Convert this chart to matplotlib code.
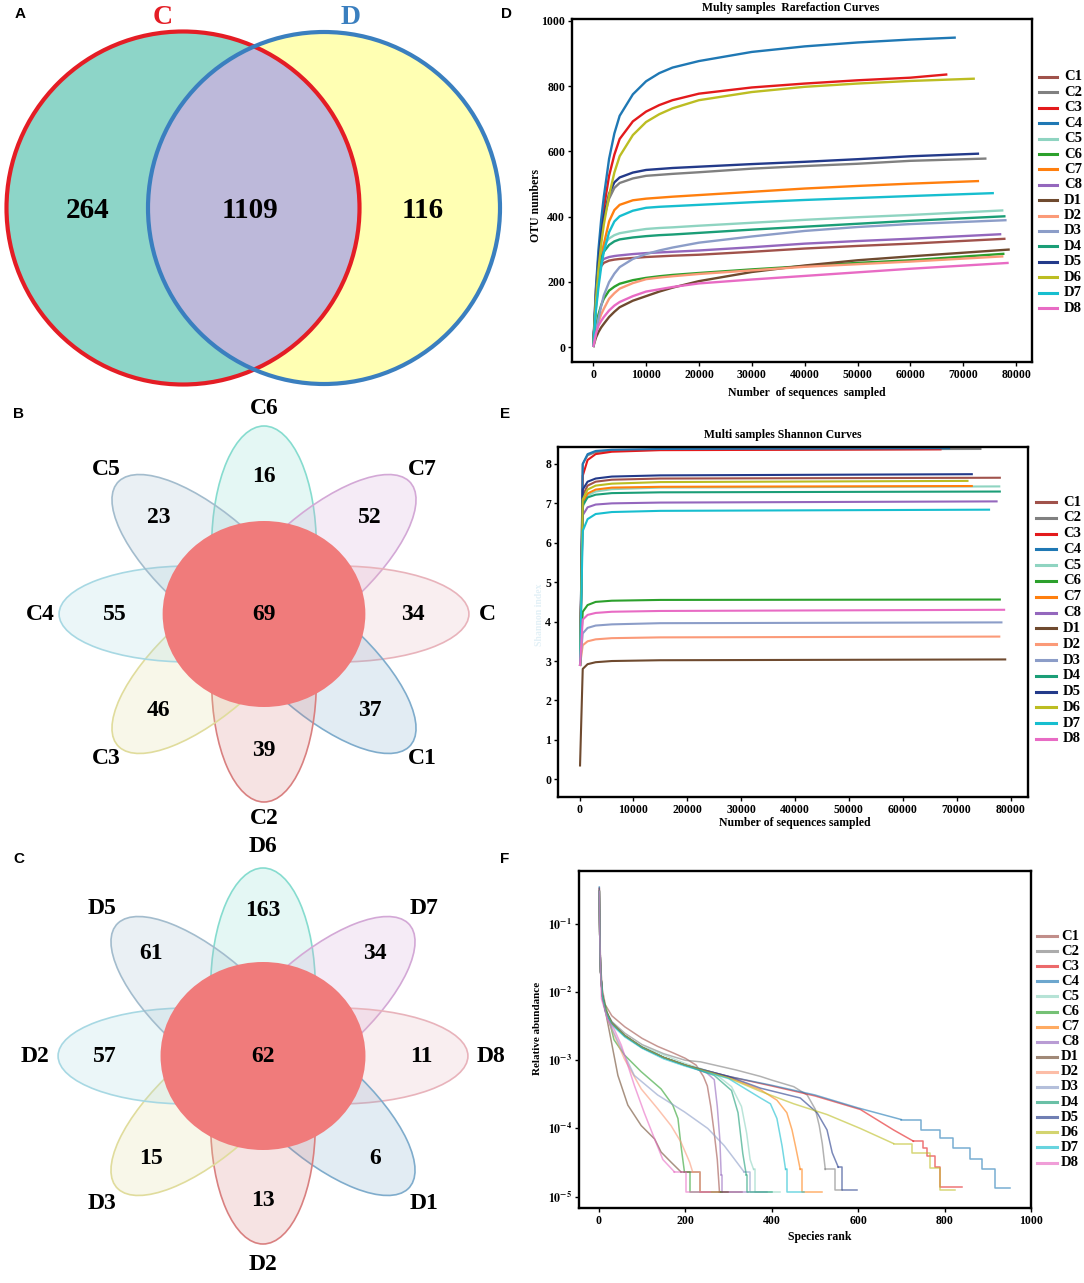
import matplotlib
matplotlib.use('Agg')
import matplotlib.pyplot as plt
from matplotlib.patches import Circle, Ellipse
from matplotlib.lines import Line2D
from matplotlib.ticker import NullLocator, FixedLocator, FixedFormatter
import numpy as np

plt.rcParams['font.family'] = ['Liberation Serif', 'DejaVu Serif']
plt.rcParams['font.weight'] = 'bold'
plt.rcParams['mathtext.fontset'] = 'stix'

W, H = 1084, 1283

# ---------------- data ----------------
venn_groups = ['C', 'D']
venn_counts = [264, 1109, 116]

flower_c_labels = ['C6', 'C7', 'C', 'C1', 'C2', 'C3', 'C4', 'C5']
flower_c_counts = [16, 52, 34, 37, 39, 46, 55, 23]
flower_c_core = 69
flower_d_labels = ['D6', 'D7', 'D8', 'D1', 'D2', 'D3', 'D2', 'D5']
flower_d_counts = [163, 34, 11, 6, 13, 15, 57, 61]
flower_d_core = 62

samples = ['C1', 'C2', 'C3', 'C4', 'C5', 'C6', 'C7', 'C8',
           'D1', 'D2', 'D3', 'D4', 'D5', 'D6', 'D7', 'D8']
sample_colors = ['#a0524b', '#808080', '#e31a1c', '#1f78b4', '#8fd4c1', '#2ca02c', '#ff7f0e', '#9467bd',
                 '#6f4a2f', '#fb9a78', '#8c9dc8', '#1b9e77', '#233a8a', '#bcbd22', '#17becf', '#e86bc4']

# rarefaction (panel D)
rare_depth = [0, 500, 1000, 1500, 2000, 3000, 4000, 5000, 7500, 10000, 12500, 15000, 20000, 30000, 40000, 50000, 60000]
rare_C1 = [0, 145, 222, 248, 258, 265, 268, 270, 273, 276, 278, 280, 283, 292, 302, 310, 317]
rare_C2 = [0, 150, 260, 340, 395, 455, 488, 503, 517, 525, 528, 531, 536, 547, 555, 562, 571]
rare_C3 = [0, 170, 280, 360, 425, 525, 590, 638, 692, 722, 742, 757, 777, 796, 808, 818, 826]
rare_C4 = [0, 180, 300, 390, 460, 577, 655, 709, 775, 815, 840, 857, 877, 905, 922, 934, 943]
rare_C5 = [0, 150, 250, 292, 312, 333, 343, 349, 356, 362, 365, 367, 372, 381, 390, 398, 405]
rare_C6 = [0, 60, 100, 128, 148, 173, 185, 194, 205, 212, 217, 221, 227, 238, 248, 258, 266]
rare_C7 = [0, 120, 200, 265, 315, 385, 420, 436, 450, 455, 458, 461, 466, 476, 486, 494, 501]
rare_C8 = [0, 150, 232, 260, 270, 276, 279, 281, 285, 288, 290, 292, 296, 306, 317, 325, 332]
rare_D1 = [0, 28, 46, 60, 71, 92, 108, 122, 142, 156, 170, 182, 202, 230, 250, 266, 278]
rare_D2 = [0, 45, 77, 100, 117, 148, 165, 179, 196, 208, 213, 217, 224, 235, 246, 254, 262]
rare_D3 = [0, 45, 87, 125, 158, 199, 225, 245, 270, 285, 296, 305, 320, 339, 356, 368, 377]
rare_D4 = [0, 140, 228, 270, 292, 313, 324, 330, 336, 340, 343, 345, 350, 360, 369, 378, 387]
rare_D5 = [0, 150, 265, 345, 400, 470, 505, 520, 535, 543, 546, 549, 553, 561, 568, 576, 585]
rare_D6 = [0, 140, 240, 315, 375, 465, 535, 585, 650, 690, 714, 732, 757, 782, 798, 808, 816]
rare_D7 = [0, 110, 185, 245, 292, 352, 385, 401, 418, 427, 430, 432, 436, 444, 451, 457, 463]
rare_D8 = [0, 40, 66, 80, 92, 112, 127, 138, 156, 170, 177, 184, 195, 207, 218, 229, 240]
rare_end_depth = [78000, 74400, 67000, 68600, 77600, 77800, 73000, 77200,
                  78800, 77600, 78200, 78000, 73000, 72200, 75800, 78600]
rare_end_otu = [332, 578, 836, 949, 419, 286, 509, 346,
                299, 278, 389, 401, 593, 823, 472, 258]

# shannon (panel E)
sh_depth = [100, 600, 1500, 3000, 6000, 15000]
sh_C1 = [2.9, 7.2, 7.45, 7.55, 7.6, 7.63]
sh_C2 = [2.9, 8.0, 8.22, 8.3, 8.34, 8.36]
sh_C3 = [2.9, 7.7, 8.1, 8.25, 8.31, 8.35]
sh_C4 = [2.9, 8.0, 8.25, 8.33, 8.36, 8.38]
sh_C5 = [2.9, 6.9, 7.2, 7.3, 7.36, 7.4]
sh_C6 = [2.9, 4.25, 4.42, 4.5, 4.53, 4.55]
sh_C7 = [2.9, 7.0, 7.25, 7.35, 7.4, 7.42]
sh_C8 = [2.9, 6.7, 6.9, 6.97, 7.0, 7.02]
sh_D1 = [0.35, 2.8, 2.92, 2.97, 3.0, 3.02]
sh_D2 = [2.9, 3.4, 3.5, 3.55, 3.58, 3.6]
sh_D3 = [2.9, 3.7, 3.84, 3.9, 3.93, 3.96]
sh_D4 = [2.9, 6.95, 7.15, 7.22, 7.26, 7.28]
sh_D5 = [2.9, 7.35, 7.55, 7.63, 7.68, 7.71]
sh_D6 = [2.9, 7.1, 7.35, 7.45, 7.5, 7.54]
sh_D7 = [2.9, 6.3, 6.6, 6.73, 6.78, 6.81]
sh_D8 = [2.9, 4.05, 4.17, 4.22, 4.25, 4.27]
sh_end_depth = [78000, 74400, 67000, 68600, 77900, 78000, 72800, 77400,
                79000, 77900, 78300, 78000, 72800, 72000, 76000, 78800]
sh_end_value = [7.65, 8.38, 8.37, 8.4, 7.43, 4.56, 7.44, 7.05,
                3.04, 3.62, 3.98, 7.3, 7.74, 7.57, 6.84, 4.3]

# rank abundance (panel F): smooth head, stepped tail
rank_C1 = [1, 2, 4, 8, 15, 30, 60, 100, 136, 170, 200, 225, 242, 251, 259, 267, 274]
abund_C1 = [0.34, 0.09, 0.025, 0.011, 6.5e-3, 4.5e-3, 3.1e-3, 2.1e-3, 1.6e-3, 1.3e-3, 1.07e-3, 8.5e-4, 5.8e-4, 4.2e-4, 2.1e-4, 8.5e-5, 3.5e-5]
tail_rank_C1 = [279, 332]
tail_abund_C1 = [1.18e-5, 1.18e-5]

rank_C2 = [1, 2, 4, 8, 15, 30, 60, 100, 150, 200, 235, 318, 374, 401, 451, 482, 501, 510, 517, 524]
abund_C2 = [0.3, 0.07, 0.02, 9e-3, 5.5e-3, 3.7e-3, 2.5e-3, 1.7e-3, 1.25e-3, 1.0e-3, 9.5e-4, 7.2e-4, 5.8e-4, 5.1e-4, 4.1e-4, 3.1e-4, 1.9e-4, 1.1e-4, 6e-5, 2.5e-5]
tail_rank_C2 = [524, 547, 563]
tail_abund_C2 = [2.5e-5, 1.26e-5, 1.26e-5]

rank_C3 = [1, 2, 4, 8, 15, 30, 60, 100, 150, 200, 300, 400, 500, 605, 682, 728]
abund_C3 = [0.33, 0.07, 0.02, 9e-3, 5.5e-3, 3.5e-3, 2.3e-3, 1.55e-3, 1.1e-3, 8.5e-4, 5.8e-4, 4.2e-4, 3.0e-4, 1.9e-4, 9.5e-5, 6.5e-5]
tail_rank_C3 = [728, 751, 759, 778, 790, 840]
tail_abund_C3 = [6.5e-5, 5.1e-5, 3.9e-5, 2.7e-5, 1.4e-5, 1.4e-5]

rank_C4 = [1, 2, 4, 8, 15, 30, 60, 100, 150, 200, 300, 400, 500, 600, 700]
abund_C4 = [0.35, 0.08, 0.02, 9e-3, 5.5e-3, 3.6e-3, 2.3e-3, 1.55e-3, 1.1e-3, 8.5e-4, 5.8e-4, 4.3e-4, 3.1e-4, 2.0e-4, 1.35e-4]
tail_rank_C4 = [700, 745, 790, 820, 859, 886, 917, 952]
tail_abund_C4 = [1.35e-4, 9.5e-5, 7.2e-5, 5.1e-5, 3.6e-5, 2.5e-5, 1.35e-5, 1.35e-5]

rank_C5 = [1, 2, 4, 8, 15, 30, 60, 100, 150, 200, 267, 307, 330, 342, 350, 358]
abund_C5 = [0.3, 0.07, 0.02, 9e-3, 5.5e-3, 3.5e-3, 2.3e-3, 1.6e-3, 1.2e-3, 9e-4, 6.5e-4, 4.1e-4, 2.1e-4, 8.5e-5, 3.5e-5, 2.5e-5]
tail_rank_C5 = [358, 362, 420]
tail_abund_C5 = [2.5e-5, 1.18e-5, 1.18e-5]

rank_C6 = [1, 2, 4, 8, 17, 35, 59, 98, 144, 171, 183, 190, 198]
abund_C6 = [0.3, 0.07, 0.02, 9e-3, 5.8e-3, 2.0e-3, 1.2e-3, 6.8e-4, 3.8e-4, 2.2e-4, 1.4e-4, 5.6e-5, 2.3e-5]
tail_rank_C6 = [198, 210, 286]
tail_abund_C6 = [2.3e-5, 1.18e-5, 1.18e-5]

rank_C7 = [1, 2, 4, 8, 15, 30, 60, 100, 150, 200, 300, 374, 412, 435, 447, 455, 466]
abund_C7 = [0.3, 0.07, 0.02, 9e-3, 5.5e-3, 3.5e-3, 2.3e-3, 1.55e-3, 1.1e-3, 8.5e-4, 5.6e-4, 3.7e-4, 2.6e-4, 1.7e-4, 9.5e-5, 5.5e-5, 2.5e-5]
tail_rank_C7 = [466, 470, 516]
tail_abund_C7 = [2.5e-5, 1.18e-5, 1.18e-5]

rank_C8 = [1, 2, 4, 8, 15, 30, 60, 100, 150, 200, 250, 267, 274, 280, 283]
abund_C8 = [0.3, 0.07, 0.02, 9e-3, 5.5e-3, 3.5e-3, 2.3e-3, 1.55e-3, 1.1e-3, 8.5e-4, 6.5e-4, 5.2e-4, 2.1e-4, 6.8e-5, 2.1e-5]
tail_rank_C8 = [283, 285, 346]
tail_abund_C8 = [2.1e-5, 1.18e-5, 1.18e-5]

rank_D1 = [1, 2, 4, 8, 17, 44, 67, 98, 129, 144, 167, 190]
abund_D1 = [0.3, 0.07, 0.02, 9e-3, 4.6e-3, 6.0e-4, 2.2e-4, 1.1e-4, 7.0e-5, 4.5e-5, 3.2e-5, 2.3e-5]
tail_rank_D1 = [190, 235, 299]
tail_abund_D1 = [2.3e-5, 1.18e-5, 1.18e-5]

rank_D2 = [1, 2, 4, 8, 20, 59, 98, 136, 167, 190, 210, 217]
abund_D2 = [0.3, 0.07, 0.02, 8e-3, 4e-3, 1.05e-3, 3.8e-4, 1.95e-4, 1.1e-4, 6.3e-5, 3.2e-5, 2.3e-5]
tail_rank_D2 = [217, 233, 278]
tail_abund_D2 = [2.3e-5, 1.18e-5, 1.18e-5]

rank_D3 = [1, 2, 4, 8, 20, 44, 82, 136, 198, 252, 290, 313, 336]
abund_D3 = [0.3, 0.07, 0.02, 8e-3, 4e-3, 1.9e-3, 6.0e-4, 3.1e-4, 1.75e-4, 1.0e-4, 5.6e-5, 3.6e-5, 2.3e-5]
tail_rank_D3 = [336, 350, 390]
tail_abund_D3 = [2.3e-5, 1.18e-5, 1.18e-5]

rank_D4 = [1, 2, 4, 8, 15, 30, 60, 100, 150, 200, 267, 307, 322, 333, 341]
abund_D4 = [0.3, 0.07, 0.02, 9e-3, 5.5e-3, 3.5e-3, 2.3e-3, 1.55e-3, 1.1e-3, 8.5e-4, 6.0e-4, 3.6e-4, 1.7e-4, 4.3e-5, 2.1e-5]
tail_rank_D4 = [341, 343, 401]
tail_abund_D4 = [2.1e-5, 1.18e-5, 1.18e-5]

rank_D5 = [1, 2, 4, 8, 15, 30, 60, 100, 150, 200, 300, 374, 466, 505, 528, 540, 554]
abund_D5 = [0.3, 0.07, 0.02, 9e-3, 5.5e-3, 3.5e-3, 2.3e-3, 1.55e-3, 1.1e-3, 8.5e-4, 5.8e-4, 3.9e-4, 2.8e-4, 1.7e-4, 9.5e-5, 4.4e-5, 2.7e-5]
tail_rank_D5 = [554, 562, 598]
tail_abund_D5 = [2.7e-5, 1.26e-5, 1.26e-5]

rank_D6 = [1, 2, 4, 8, 15, 30, 60, 100, 150, 200, 300, 374, 451, 528, 605, 682]
abund_D6 = [0.3, 0.07, 0.02, 9e-3, 5.5e-3, 3.5e-3, 2.3e-3, 1.55e-3, 1.1e-3, 8.5e-4, 5.5e-4, 3.5e-4, 2.3e-4, 1.6e-4, 1.0e-4, 6.0e-5]
tail_rank_D6 = [682, 724, 767, 790, 825]
tail_abund_D6 = [6.0e-5, 4.4e-5, 2.6e-5, 1.26e-5, 1.26e-5]

rank_D7 = [1, 2, 4, 8, 15, 30, 60, 100, 150, 200, 300, 374, 397, 412, 424, 432]
abund_D7 = [0.3, 0.07, 0.02, 9e-3, 5.2e-3, 3.3e-3, 2.2e-3, 1.5e-3, 1.05e-3, 8.2e-4, 5.4e-4, 2.8e-4, 2.3e-4, 1.4e-4, 5.5e-5, 2.5e-5]
tail_rank_D7 = [432, 436, 474]
tail_abund_D7 = [2.5e-5, 1.18e-5, 1.18e-5]

rank_D8 = [1, 2, 4, 6, 20, 36, 52, 82, 105, 129, 148, 175]
abund_D8 = [0.3, 0.07, 0.02, 8e-3, 4e-3, 2.8e-3, 1.66e-3, 4.3e-4, 1.7e-4, 7.0e-5, 3.5e-5, 2.3e-5]
tail_rank_D8 = [175, 202, 258]
tail_abund_D8 = [2.3e-5, 1.18e-5, 1.18e-5]

g = globals()
rare_otu = [g['rare_' + s] for s in samples]
sh_value = [g['sh_' + s] for s in samples]
ra_rank = [g['rank_' + s] for s in samples]
ra_abund = [g['abund_' + s] for s in samples]
ra_tail_rank = [g['tail_rank_' + s] for s in samples]
ra_tail_abund = [g['tail_abund_' + s] for s in samples]

# ---------------- layout helpers ----------------
fig = plt.figure(figsize=(W / 100, H / 100), dpi=100)


def px_axes(l, t, r, b):
    return fig.add_axes([l / W, 1 - b / H, (r - l) / W, (b - t) / H])


def fig_text(x, y, s, **kw):
    return fig.text(x / W, 1 - y / H, s, **kw)


def side_legend(x0, x1, xt, y0, dy, alpha=1.0, lw=2.2):
    for i, (name, col) in enumerate(zip(samples, sample_colors)):
        y = 1 - (y0 + i * dy) / H
        fig.add_artist(Line2D([x0 / W, x1 / W], [y, y], color=col, lw=lw, alpha=alpha,
                              transform=fig.transFigure))
        fig.text(xt / W, y, name, fontsize=10.5, va='center', ha='left')


def style_axes(ax):
    for s in ax.spines.values():
        s.set_linewidth(1.7)
    ax.tick_params(direction='out', length=3, width=1, labelsize=8.5, top=False, right=False, pad=2)


# ---------------- A: two-set Venn ----------------
axA = px_axes(0, 0, 520, 395)
axA.set_xlim(0, 520)
axA.set_ylim(395, 0)
axA.axis('off')
left = Circle((183, 208), 176.5, fc='#8dd5c8', ec='none')
right = Circle((324, 208), 176, fc='#ffffb3', ec='none')
axA.add_patch(left)
axA.add_patch(right)
inter = Circle((324, 208), 176, fc='#bdb9da', ec='none')
axA.add_patch(inter)
inter.set_clip_path(left)
axA.add_patch(Circle((183, 208), 176.5, fill=False, ec='#e41d25', lw=3))
axA.add_patch(Circle((324, 208), 176, fill=False, ec='#3a7fbf', lw=3))
axA.text(163, 17, venn_groups[0], color='#e41d25', fontsize=20, ha='center', va='center')
axA.text(351, 17, venn_groups[1], color='#3a7fbf', fontsize=20, ha='center', va='center')
for xx, n in zip([88, 250, 423], venn_counts):
    axA.text(xx, 210, str(n), fontsize=21, ha='center', va='center')

# ---------------- B, C: flower diagrams ----------------
petal_edge = ['#86dccf', '#d3a8d6', '#e8b3bb', '#7faccc', '#d98080', '#e0dc9c', '#a7d8e3', '#a3bccd']
SX = 1.09
PETAL_A, PETAL_B, PETAL_D = 120, 48, 68


def draw_flower(region, center, labels, counts, core, core_r, num_r, lab_r):
    l, t, r, b = region
    cx, cy = center
    ax = px_axes(l, t, r, b)
    ax.set_xlim((l - cx) / SX, (r - cx) / SX)
    ax.set_ylim(cy - b, cy - t)
    ax.axis('off')
    for i in range(len(labels)):
        ang = np.deg2rad(90 - 45 * i)
        ca, sa = np.cos(ang), np.sin(ang)
        ax.add_patch(Ellipse((PETAL_D * ca, PETAL_D * sa), 2 * PETAL_A, 2 * PETAL_B,
                             angle=np.degrees(ang), fc=petal_edge[i], alpha=0.22, ec='none'))
        ax.add_patch(Ellipse((PETAL_D * ca, PETAL_D * sa), 2 * PETAL_A, 2 * PETAL_B,
                             angle=np.degrees(ang), fill=False, ec=petal_edge[i], lw=1.2))
    ax.add_patch(Circle((0, 0), core_r, fc='#f07b7b', ec='none', zorder=3))
    for i, (lab, n) in enumerate(zip(labels, counts)):
        ang = np.deg2rad(90 - 45 * i)
        ca, sa = np.cos(ang), np.sin(ang)
        ax.text(num_r * ca, num_r * sa, str(n), fontsize=17, ha='center', va='center', zorder=4)
        ax.text(lab_r * ca, lab_r * sa, lab, fontsize=17, ha='center', va='center', zorder=4)
    ax.text(0, 0, str(core), fontsize=17, ha='center', va='center', zorder=4)


draw_flower((0, 395, 520, 835), (264, 614), flower_c_labels, flower_c_counts, flower_c_core, 93, 137, 205)
draw_flower((0, 835, 520, 1283), (263, 1056), flower_d_labels, flower_d_counts, flower_d_core, 94, 145, 209)

# ---------------- D: rarefaction ----------------
axD = px_axes(572, 19, 1032, 362)
for s, col, otu, xe, ye in zip(samples, sample_colors, rare_otu, rare_end_depth, rare_end_otu):
    axD.plot(rare_depth + [xe], otu + [ye], color=col, lw=1.7, solid_capstyle='butt')
axD.set_xlim(-4015, 83010)
axD.set_ylim(-46, 1006)
axD.set_xticks(range(0, 80001, 10000))
axD.set_yticks(range(0, 1001, 200))
style_axes(axD)
fig_text(791, 8, 'Multy samples  Rarefaction Curves', fontsize=8.5, ha='center', va='center')
fig_text(807, 393, 'Number  of sequences  sampled', fontsize=8.5, ha='center', va='center')
fig_text(536, 205, 'OTU numbers', fontsize=8.5, ha='center', va='center', rotation=90)
side_legend(1039, 1057, 1064, 77, 15.4)

# ---------------- E: shannon ----------------
axE = px_axes(558, 447, 1028, 797)
order_e = list(range(16))
order_e.remove(8)
order_e.append(8)
for i in order_e:
    axE.plot(sh_depth + [sh_end_depth[i]], sh_value[i] + [sh_end_value[i]],
             color=sample_colors[i], lw=1.5)
axE.set_xlim(-3990, 83230)
axE.set_ylim(-0.45, 8.43)
axE.set_xticks(range(0, 80001, 10000))
axE.set_yticks(range(0, 9))
style_axes(axE)
fig_text(783, 435, 'Multi samples Shannon Curves', fontsize=8.5, ha='center', va='center')
fig_text(795, 823, 'Number of sequences sampled', fontsize=8.5, ha='center', va='center')
fig_text(539, 615, 'Shannon index', fontsize=7, ha='center', va='center', rotation=90, color='#e2f0f6')
side_legend(1036, 1056, 1063, 502, 15.8)

# ---------------- F: rank abundance ----------------
axF = px_axes(579, 871, 1031, 1208)
for col, r, a, tr, ta in zip(sample_colors, ra_rank, ra_abund, ra_tail_rank, ra_tail_abund):
    axF.plot(r + [tr[0]], a + [ta[0]], color=col, lw=1.1, alpha=0.6)
    axF.plot(tr, ta, color=col, lw=1.1, alpha=0.6, drawstyle='steps-post')
axF.set_yscale('log')
axF.set_xlim(-46, 1000)
axF.set_ylim(6.8e-6, 0.6)
axF.set_xticks(range(0, 1001, 200))
axF.yaxis.set_major_locator(FixedLocator([1e-1, 1e-2, 1e-3, 1e-4, 1e-5]))
axF.yaxis.set_major_formatter(FixedFormatter([r'$\mathbf{10^{-1}}$', r'$\mathbf{10^{-2}}$', r'$\mathbf{10^{-3}}$',
                                              r'$\mathbf{10^{-4}}$', r'$\mathbf{10^{-5}}$']))
axF.yaxis.set_minor_locator(NullLocator())
style_axes(axF)
fig_text(820, 1237, 'Species rank', fontsize=8.5, ha='center', va='center')
fig_text(538, 1028, 'Relative abundance', fontsize=8, ha='center', va='center', rotation=90)
side_legend(1037, 1057, 1061, 936, 15.1, alpha=0.65)

# ---------------- panel letters ----------------
for lab, x, y in [('A', 20, 14), ('B', 19, 414), ('C', 19, 859),
                  ('D', 506, 14), ('E', 505, 414), ('F', 505, 859)]:
    fig_text(x, y, lab, fontsize=11, family='Liberation Sans', fontweight='bold', ha='center', va='center')

fig.savefig('out.png', dpi=100, facecolor='white')
